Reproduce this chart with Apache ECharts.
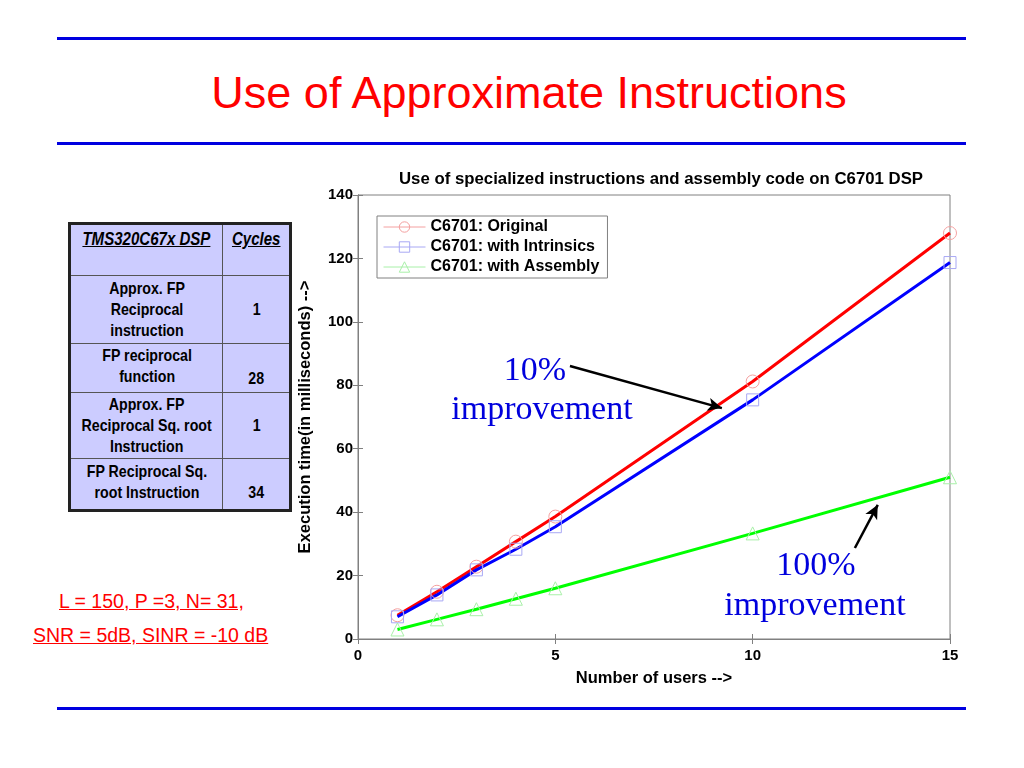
<!DOCTYPE html>
<html><head><meta charset="utf-8">
<script src="https://cdn.jsdelivr.net/npm/echarts@6/dist/echarts.min.js"></script>
<style>
html,body{margin:0;padding:0;background:#fff;}
#wrap{position:relative;width:1024px;height:768px;overflow:hidden;}
#chart{position:absolute;left:0;top:0;width:1024px;height:768px;}
.hr{position:absolute;left:57px;width:909px;height:3px;background:#0000e0;}
#title{position:absolute;left:0;width:1058px;top:67px;text-align:center;font-family:"Liberation Sans",Arial,sans-serif;font-size:45px;color:#ff0000;}
table{position:absolute;left:68px;top:222px;border-collapse:collapse;background:#ccccff;font-family:"Liberation Sans Narrow","Arial Narrow","Liberation Sans",sans-serif;font-weight:bold;font-size:16.5px;line-height:21px;color:#000;border:3px solid #222;}
td{border:1px solid #555;text-align:center;padding:0;}
td span{display:inline-block;transform:scaleX(0.86);transform-origin:center;white-space:nowrap;}
.red{position:absolute;font-family:"Liberation Sans",Arial,sans-serif;font-size:19.5px;color:#ff0000;text-decoration:underline;white-space:nowrap;}
</style></head>
<body><div id="wrap">
<div class="hr" style="top:37px"></div>
<div id="title">Use of Approximate Instructions</div>
<div class="hr" style="top:142px"></div>
<div class="hr" style="top:707px"></div>
<table>
<tr style="height:52px"><td style="width:149px;vertical-align:top;padding-top:4px;font-size:17.5px"><span><i><u>TMS320C67x DSP</u></i></span></td><td style="width:66px;vertical-align:top;padding-top:4px;font-size:17.5px"><span><i><u>Cycles</u></i></span></td></tr>
<tr style="height:68px"><td><span>Approx. FP<br>Reciprocal<br>instruction</span></td><td><span>1</span></td></tr>
<tr style="height:49px"><td style="vertical-align:top;padding-top:1px"><span>FP reciprocal<br>function</span></td><td style="vertical-align:bottom;padding-bottom:3px"><span>28</span></td></tr>
<tr style="height:66px"><td><span>Approx. FP<br>Reciprocal Sq. root<br>Instruction</span></td><td><span>1</span></td></tr>
<tr style="height:52px"><td style="vertical-align:top;padding-top:2px"><span>FP Reciprocal Sq.<br>root Instruction</span></td><td style="vertical-align:bottom;padding-bottom:6px"><span>34</span></td></tr>
</table>
<div class="red" style="left:59px;top:590px">L = 150, P =3, N= 31,</div>
<div class="red" style="left:33px;top:624px">SNR = 5dB, SINR = -10 dB</div>
<div id="chart"></div>
</div>
<script>
var users = [1, 2, 3, 4, 5, 10, 15];
var original = [7.5, 14.9, 22.8, 30.7, 38.6, 81.2, 128];
var intrinsics = [7, 13.9, 21.8, 28.3, 35.4, 75.4, 118.7];
var assembly = [3, 6.2, 9.4, 12.7, 16, 33.3, 51];
var seriesNames = ['C6701: Original', 'C6701: with Intrinsics', 'C6701: with Assembly'];
var xTicks = [0, 5, 10, 15];

function pairs(v){ return users.map(function(u,i){ return [u, v[i]]; }); }
var font = '"Liberation Sans", Arial, sans-serif';
var markColors = ['#f4a0a0', '#a8a8f4', '#a8f0a8'];
var chart = echarts.init(document.getElementById('chart'));
function mkSeries(name, data, line, mark, sym, size){
  return {name:name, type:'line', data:pairs(data), symbol:sym, symbolSize:size,
    lineStyle:{color:line, width:3}, itemStyle:{color:'rgba(255,255,255,0)', borderColor:mark, borderWidth:1},
    z:2, animation:false};
}
var s1 = mkSeries(seriesNames[0], original, '#ff0000', markColors[0], 'circle', 13);
var s2 = mkSeries(seriesNames[1], intrinsics, '#0000ff', markColors[1], 'rect', 12);
var s3 = mkSeries(seriesNames[2], assembly, '#00ff00', markColors[2], 'triangle', 13);
s1.markLine = {silent:true, symbol:['none','arrow'], symbolSize:[10,14], animation:false,
  lineStyle:{color:'#000', width:2.5, type:'solid'}, label:{show:false},
  data:[[{coord:[5.37,86.1]},{coord:[9.22,72.8]}],[{coord:[12.59,28.7]},{coord:[13.17,42.3]}]]};
var dummy = {type:'line', data:[], xAxisIndex:1, yAxisIndex:1, silent:true};
var axisLbl = {color:'#000', fontWeight:'bold', fontSize:15, fontFamily:font};
var gray = '#808080';
var tick = {show:true, inside:true, length:5, lineStyle:{color:gray}};
var annFont = '34px "Liberation Serif", "Times New Roman", serif';
chart.setOption({
  animation:false,
  title:{text:'Use of specialized instructions and assembly code on C6701 DSP', left:656, top:166, textAlign:'center',
    textStyle:{fontFamily:font, fontSize:16.8, fontWeight:'bold', color:'#000'}},
  grid:{left:358, right:74, top:195, bottom:129, show:true, borderColor:gray, borderWidth:1},
  legend:{left:377, top:216, orient:'vertical', itemGap:4, itemWidth:42, itemHeight:13, padding:[3,8,3,6],
    borderColor:gray, borderWidth:1, backgroundColor:'#fff',
    textStyle:{fontFamily:font, fontSize:16, fontWeight:'bold', color:'#000'},
    data:seriesNames.map(function(n,i){ return {name:n, itemStyle:{borderColor:markColors[i], borderWidth:1, color:'rgba(255,255,255,0)'},
      lineStyle:{color:markColors[i], width:1}}; })},
  xAxis:[
    {type:'value', min:0, max:15, interval:5, name:'Number of users -->', nameLocation:'middle', nameGap:31,
     nameTextStyle:{fontFamily:font, fontSize:16.5, fontWeight:'bold', color:'#000'},
     axisLine:{lineStyle:{color:gray, width:1}}, axisTick:tick,
     axisLabel:Object.assign({margin:9, formatter:function(v){ return xTicks.indexOf(v)>=0 ? v : ''; }}, axisLbl), splitLine:{show:false}},
    {type:'value', min:0, max:15, interval:5, position:'top', axisLine:{lineStyle:{color:gray}},
     axisTick:tick, axisLabel:{show:false}, splitLine:{show:false}}
  ],
  yAxis:[
    {type:'value', min:0, max:140, interval:20, name:'Execution time(in milliseconds) -->', nameLocation:'middle', nameGap:44,
     nameTextStyle:{fontFamily:font, fontSize:16.5, fontWeight:'bold', color:'#000'},
     axisLine:{show:true, lineStyle:{color:gray}}, axisTick:tick,
     axisLabel:Object.assign({margin:5}, axisLbl), splitLine:{show:false}},
    {type:'value', min:0, max:140, interval:20, position:'right', axisLine:{show:true, lineStyle:{color:gray}},
     axisTick:tick, axisLabel:{show:false}, splitLine:{show:false}}
  ],
  series:[s1, s2, s3, dummy],
  graphic:[
    {type:'text', position:[535,371], style:{text:'10%', textAlign:'center', textVerticalAlign:'middle', fill:'#0000dd', font:annFont}},
    {type:'text', position:[542,410], style:{text:'improvement', textAlign:'center', textVerticalAlign:'middle', fill:'#0000dd', font:annFont}},
    {type:'text', position:[816,566], style:{text:'100%', textAlign:'center', textVerticalAlign:'middle', fill:'#0000dd', font:annFont}},
    {type:'text', position:[815,606], style:{text:'improvement', textAlign:'center', textVerticalAlign:'middle', fill:'#0000dd', font:annFont}}
  ]
});
</script>
</body></html>
